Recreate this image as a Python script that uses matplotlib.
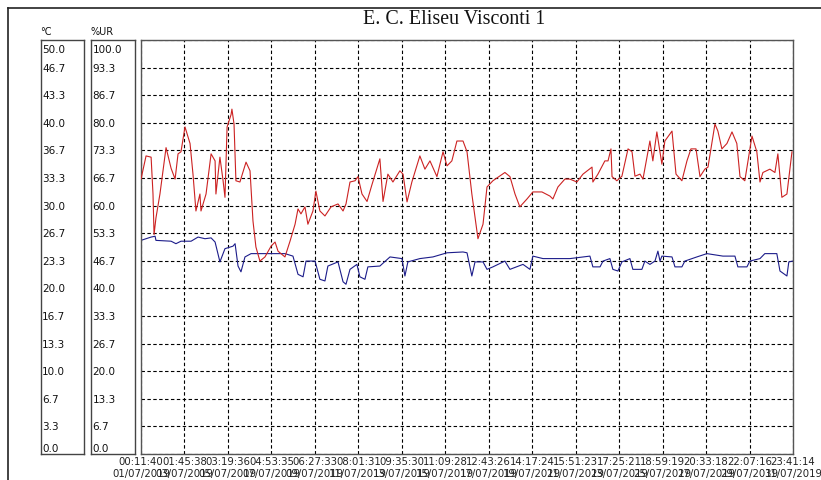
import numpy as np
import matplotlib.pyplot as plt
from matplotlib.lines import Line2D

# humidity (%UR), days since 01/07/2019 00:11:40
ur_days = [0.00, 0.24, 0.48, 0.57, 0.62, 0.71, 0.90, 1.19, 1.43, 1.62, 1.76, 1.90, 2.09, 2.33, 2.47,
           2.61, 2.80, 2.85, 3.09, 3.33, 3.52, 3.56, 3.75, 3.90, 3.99, 4.09, 4.28, 4.32, 4.42, 4.51,
           4.70, 4.99, 5.18, 5.32, 5.46, 5.65, 5.89, 6.18, 6.37, 6.51, 6.84, 7.08, 7.32, 7.46, 7.60,
           7.79, 7.93, 8.17, 8.31, 8.50, 8.74, 9.03, 9.36, 9.60, 9.74, 9.93, 10.17, 10.31, 10.50,
           10.74, 10.97, 11.35, 11.50, 11.73, 11.97, 12.30, 12.45, 12.64, 12.87, 13.25, 13.49, 13.73,
           14.06, 14.35, 14.54, 14.77, 15.01, 15.30, 15.49, 15.72, 16.01, 16.25, 16.44, 16.72, 17.29,
           17.53, 17.77, 18.00, 18.34, 18.62, 19.05, 19.43, 19.57, 19.81, 20.14, 20.38, 20.71, 21.00,
           21.43, 21.47, 21.71, 22.04, 22.19, 22.33, 22.38, 22.61, 22.85, 23.14, 23.33, 23.47, 23.71,
           23.85, 24.18, 24.32, 24.51, 24.75, 24.89, 25.23, 25.42, 25.70, 25.94, 26.13, 26.37, 26.56,
           26.79, 26.94, 27.27, 27.41, 27.60, 27.84, 28.08, 28.31, 28.46, 28.69, 29.03, 29.26, 29.41,
           29.55, 29.88, 30.12, 30.26, 30.45, 30.69, 30.93]
ur_values = [66.4, 72, 71.7, 62.8, 53, 57, 62.8, 74, 69, 66.4, 72.5, 73, 79, 75, 67.6,
             58.7, 62.8, 58.7, 62.8, 72.5, 70.8, 62.8, 71.7, 66, 62, 79, 82, 83.3, 79.7, 66,
             65.7, 70.5, 68.4, 56.3, 50, 46.6, 47.6, 50.2, 51.2, 49, 47.6, 51.4, 55.5, 59.2, 58,
             59.7, 55.5, 58.7, 63.5, 58.7, 57.5, 59.7, 60.4, 58.7, 60.4, 65.7, 66, 67, 62.8,
             61, 65, 71.3, 61, 67.6, 65.7, 68.4, 67.6, 60.9, 65.7, 72, 68.8, 70.8,
             67, 73, 69.6, 70.8, 75.6, 75.6, 73, 62.8, 52, 55.5, 64.5, 66, 68,
             67, 62.8, 59.7, 61.6, 63.3, 63.3, 62.3, 61.6, 64.5, 66.4, 66.4, 65.7, 67.6,
             69.3, 65.7, 67.6, 70.8, 70.8, 73.7, 67, 66, 67.1, 73.7, 73, 67.1, 67.6,
             66.4, 75.6, 70.8, 77.8, 70, 75.6, 78, 67.6, 66, 70.8, 73.7, 73.7, 67,
             68.8, 69.3, 79.7, 78, 73.7, 75, 77.8, 75, 67, 66, 76.8, 73, 65.7,
             68, 68.8, 68, 72.5, 62, 62.8, 73]

# temperature (°C)
temp_days = [0.00, 0.48, 0.67, 0.71, 1.43, 1.66, 1.90, 2.38, 2.71, 3.04, 3.33, 3.52, 3.75, 3.99,
             4.37, 4.47, 4.61, 4.75, 4.94, 5.23, 5.89, 6.84, 7.22, 7.46, 7.70, 7.84, 8.27, 8.50,
             8.74, 8.88, 9.36, 9.60, 9.74, 9.93, 10.26, 10.40, 10.64, 10.78, 11.35, 11.83, 12.40,
             12.54, 12.68, 13.25, 13.87, 14.54, 15.30, 15.49, 15.72, 15.87, 16.25, 16.44, 16.72,
             17.29, 17.53, 18.15, 18.48, 18.62, 19.10, 19.76, 20.38, 21.33, 21.47, 21.81, 21.95,
             22.28, 22.42, 22.66, 22.85, 23.23, 23.37, 23.80, 23.94, 24.18, 24.42, 24.56, 24.66,
             24.75, 25.23, 25.37, 25.70, 25.84, 26.41, 26.89, 27.65, 28.22, 28.36, 28.79, 28.93,
             29.41, 29.64, 30.21, 30.36, 30.69, 30.78, 30.97]
temp_values = [25.8, 26.2, 26.3, 25.8, 25.7, 25.4, 25.7, 25.7, 26.2, 26.0, 26.1, 25.6, 23.2, 24.8,
               25.1, 25.4, 22.7, 22.0, 23.8, 24.2, 24.2, 24.2, 23.9, 21.7, 21.4, 23.3, 23.3, 21.1,
               20.9, 22.7, 23.2, 20.8, 20.5, 22.3, 22.9, 21.4, 21.1, 22.6, 22.7, 23.8, 23.6,
               21.5, 23.2, 23.6, 23.8, 24.3, 24.4, 24.3, 21.5, 23.2, 23.2, 22.3, 22.6,
               23.3, 22.3, 22.9, 22.3, 23.9, 23.6, 23.6, 23.6, 23.9, 22.6, 22.6, 23.3,
               23.6, 22.3, 22.1, 23.2, 23.6, 22.3, 22.3, 23.3, 22.9, 23.3, 24.5, 23.3,
               23.9, 23.8, 22.6, 22.6, 23.3, 23.8, 24.2, 23.9, 23.9, 22.6, 22.6, 23.3,
               23.6, 24.2, 24.2, 22.1, 21.5, 23.2, 23.3]

span_days = 30 + 23.4928 / 24  # 01/07 00:11:40 -> 31/07 23:41:14

time_labels = ['00:11:40', '01:45:38', '03:19:36', '04:53:35', '06:27:33', '08:01:31',
               '09:35:30', '11:09:28', '12:43:26', '14:17:24', '15:51:23', '17:25:21',
               '18:59:19', '20:33:18', '22:07:16', '23:41:14']
date_labels = ['01/07/2019', '03/07/2019', '05/07/2019', '07/07/2019', '09/07/2019',
               '11/07/2019', '13/07/2019', '15/07/2019', '17/07/2019', '19/07/2019',
               '21/07/2019', '23/07/2019', '25/07/2019', '27/07/2019', '29/07/2019',
               '31/07/2019']
c_labels = ['50.0', '46.7', '43.3', '40.0', '36.7', '33.3', '30.0', '26.7', '23.3', '20.0',
            '16.7', '13.3', '10.0', '6.7', '3.3', '0.0']
ur_labels = ['100.0', '93.3', '86.7', '80.0', '73.3', '66.7', '60.0', '53.3', '46.7', '40.0',
             '33.3', '26.7', '20.0', '13.3', '6.7', '0.0']

W, H = 821, 481
fig = plt.figure(figsize=(W / 100, H / 100), dpi=100)
fig.patch.set_facecolor('white')

# outer frame (top and left edges visible)
fig.add_artist(Line2D([8 / W, 8 / W], [0, 1 - 9 / H], color='#222222', lw=1.2))
fig.add_artist(Line2D([8 / W, 1], [1 - 9 / H, 1 - 9 / H], color='#222222', lw=1.2))

top, bot = 41, 455
ax = fig.add_axes([141 / W, 1 - bot / H, 652 / W, (bot - top) / H])
ax.set_xlim(0, span_days)
ax.set_ylim(0, 50)
ticks = np.linspace(0, span_days, len(time_labels))
ax.set_xticks(ticks)
ax.set_xticklabels([t + '\n' + d for t, d in zip(time_labels, date_labels)],
                   fontsize=7.3, color='#222222', linespacing=1.25)
ax.set_yticks(np.linspace(0, 50, 16))
ax.tick_params(axis='both', length=0, pad=1.5)
ax.tick_params(axis='y', labelleft=False)
ax.grid(True, color='black', linestyle=(0, (3.1, 2.2)), linewidth=0.8)
for s in ax.spines.values():
    s.set_color('#555555')
    s.set_linewidth(1.0)

ax.plot(temp_days, temp_values, color='#1c1c8a', lw=0.8)

ax2 = ax.twinx()
ax2.set_ylim(0, 100)
ax2.set_yticks([])
for s in ax2.spines.values():
    s.set_visible(False)
ax2.plot(ur_days, ur_values, color='#cc2222', lw=0.8)

# scale boxes
def scale_box(x0, x1, vmax, labels, unit):
    b = fig.add_axes([x0 / W, 1 - bot / H, (x1 - x0) / W, (bot - top) / H])
    b.set_xlim(0, 1)
    b.set_ylim(0, vmax)
    b.set_xticks([])
    b.set_yticks([])
    for s in b.spines.values():
        s.set_color('#444444')
        s.set_linewidth(1.0)
    vals = np.linspace(vmax, 0, len(labels))
    for i, (v, lab) in enumerate(zip(vals, labels)):
        va = 'top' if i == 0 else ('bottom' if i == len(labels) - 1 else 'center')
        yy = v - vmax * 0.01 if i == 0 else (v + vmax * 0.003 if va == 'bottom' else v)
        b.text(0.03, yy, lab, fontsize=7.5, color='#111111', va=va, ha='left')
    fig.text((x0 - 1) / W, 1 - 32 / H, unit, fontsize=7, color='#111111',
             va='center', ha='left')

scale_box(41, 84, 50, c_labels, '°C')
scale_box(91, 135, 100, ur_labels, '%UR')

fig.text(454 / W, 1 - 20 / H, 'E. C. Eliseu Visconti 1', fontsize=14.4,
         family='Liberation Serif', ha='center', va='center', color='#111111')

fig.savefig('out.png', dpi=100)
